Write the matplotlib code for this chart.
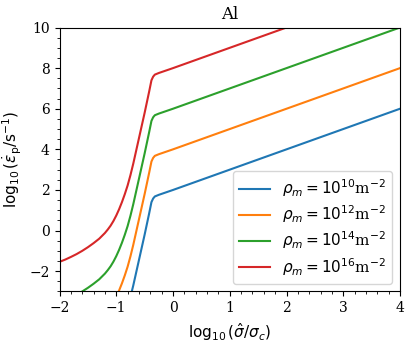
#!/usr/bin/env python3
import numpy as np
import matplotlib.pyplot as plt

plt.rcParams["font.family"] = "serif"
plt.rcParams["mathtext.fontset"] = "dejavusans"

# log10(sigma_hat / sigma_c)
x = [-2.0, -1.9, -1.8, -1.7, -1.6, -1.5, -1.4, -1.3, -1.2, -1.15, -1.1, -1.05, -1.0,
     -0.95, -0.9, -0.85, -0.8, -0.75, -0.7, -0.6, -0.5, -0.42, -0.38, -0.35, -0.32,
     -0.25, 0.0, 2.0, 4.0]

# log10(strain rate) for each dislocation density
y_rho10 = [-7.54, -7.43, -7.30, -7.16, -7.00, -6.82, -6.62, -6.40, -6.12, -5.95, -5.76, -5.53, -5.26,
           -4.95, -4.60, -4.21, -3.78, -3.27, -2.70, -1.45, -0.20, 0.85, 1.40, 1.58, 1.68,
           1.76, 2.0, 4.0, 6.0]
y_rho12 = [-5.54, -5.43, -5.30, -5.16, -5.00, -4.82, -4.62, -4.40, -4.12, -3.95, -3.76, -3.53, -3.26,
           -2.95, -2.60, -2.21, -1.78, -1.27, -0.70, 0.55, 1.80, 2.85, 3.40, 3.58, 3.68,
           3.76, 4.0, 6.0, 8.0]
y_rho14 = [-3.54, -3.43, -3.30, -3.16, -3.00, -2.82, -2.62, -2.40, -2.12, -1.95, -1.76, -1.53, -1.26,
           -0.95, -0.60, -0.21, 0.22, 0.73, 1.30, 2.55, 3.80, 4.85, 5.40, 5.58, 5.68,
           5.76, 6.0, 8.0, 10.0]
y_rho16 = [-1.54, -1.43, -1.30, -1.16, -1.00, -0.82, -0.62, -0.40, -0.12, 0.05, 0.24, 0.47, 0.74,
           1.05, 1.40, 1.79, 2.22, 2.73, 3.30, 4.55, 5.80, 6.85, 7.40, 7.58, 7.68,
           7.76, 8.0, 10.0, 12.0]

labels = [r"$\rho_m = 10^{10}$m$^{-2}$",
          r"$\rho_m = 10^{12}$m$^{-2}$",
          r"$\rho_m = 10^{14}$m$^{-2}$",
          r"$\rho_m = 10^{16}$m$^{-2}$"]

fig = plt.figure(figsize=(4.15, 3.49), dpi=100)
ax = fig.add_axes([0.1434, 0.1648, 0.8205, 0.7564])
for y, lab in zip([y_rho10, y_rho12, y_rho14, y_rho16], labels):
    ax.plot(x, y, label=lab)
ax.set_xlim(-2, 4)
ax.set_ylim(-3, 10)
ax.minorticks_on()
ax.set_title("Al")
ax.set_xlabel(r"$\log_{10}(\hat{\sigma}/\sigma_c)$", fontsize=11)
ax.set_ylabel(r"$\log_{10}(\dot{\varepsilon}_\mathrm{p}/\mathrm{s}^{-1})$", fontsize=11)
ax.legend(loc="lower right", fontsize=11, labelspacing=0.3)
fig.savefig("out.png", dpi=100)
